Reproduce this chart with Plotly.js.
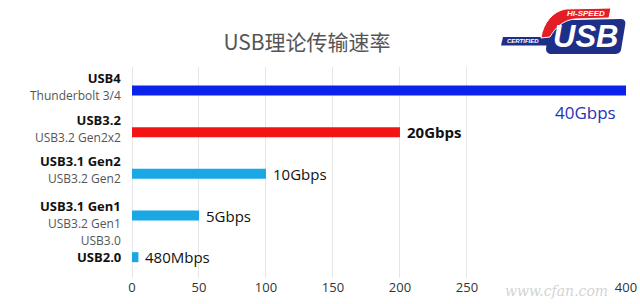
<!DOCTYPE html>
<html>
<head>
<meta charset="utf-8">
<script src="https://cdn.plot.ly/plotly-3.0.1.min.js"></script>
<style>html,body{margin:0;padding:0;background:#fff;}#chart{width:640px;height:304px;}</style>
</head>
<body>
<div id="chart"></div>
<script>
// ---- data ----
const categories = ['USB4', 'USB3.2', 'USB3.1 Gen2', 'USB3.1 Gen1', 'USB2.0'];
const subLabels = ['Thunderbolt 3/4', 'USB3.2 Gen2x2', 'USB3.2 Gen2', 'USB3.2 Gen1<br>USB3.0', ''];
const speeds = [400, 200, 100, 50, 4.8];          // in units of 100 Mbps
const speedLabels = ['40Gbps', '20Gbps', '10Gbps', '5Gbps', '480Mbps'];
const tickLabels = ['0', '50', '100', '150', '200', '250', '400'];
const tickValues = [0, 50, 100, 150, 200, 250, 368.7];
const titleText = 'USB理论传输速率';

// ---- layout geometry ----
const M = {l: 132, r: 14, t: 67, b: 26};
const W = 640 - M.l - M.r, H = 304 - M.t - M.b;
const axisMax = tickValues[tickValues.length - 1];
function px(x) { return (x - M.l) / W; }
function py(y) { return (304 - M.b - y) / H; }
function pt(q) { return px(q[0]).toFixed(4) + ',' + py(q[1]).toFixed(4); }
function pth(pts) {
  return pts.map((p, i) => (p[0] === 'C' ? 'C ' + p.slice(1).map(pt).join(' ') : (i === 0 ? 'M ' : 'L ') + pt(p))).join(' ') + ' Z';
}

const barColors = ['#0a22ea', '#f21414', '#1aa7e6', '#1aa7e6', '#1aa7e6'];

const trace = {
  type: 'bar', orientation: 'h',
  x: speeds, y: categories,
  width: 0.24,
  marker: {color: barColors, line: {width: 0}},
  hoverinfo: 'skip'
};

const annotations = [];
categories.forEach((c, i) => {
  const sub = subLabels[i];
  const lines = sub ? 1 + sub.split('<br>').length : 1;
  const shift = lines === 3 ? -7 : (lines === 2 ? 4 : 0);
  annotations.push({
    xref: 'paper', yref: 'y', x: 0, y: c, xanchor: 'right', yanchor: 'middle', xshift: -9, yshift: shift,
    align: 'right', showarrow: false,
    text: '<b>' + c + '</b>' + (sub ? '<br><span style="color:#555;font-size:12px">' + sub + '</span>' : ''),
    font: {family: 'Open Sans, Noto Sans, sans-serif', size: 13, color: '#111'}
  });
  if (i === 0) {
    annotations.push({
      xref: 'paper', yref: 'y', x: 1, y: c, xanchor: 'right', yanchor: 'middle', xshift: -8, yshift: -22,
      showarrow: false, text: speedLabels[i],
      font: {family: 'Open Sans, Noto Sans, sans-serif', size: 17, color: '#1f33b5'}
    });
  } else {
    annotations.push({
      xref: 'x', yref: 'y', x: speeds[i], y: c, xanchor: 'left', yanchor: 'middle', xshift: 5,
      showarrow: false, text: i === 1 ? '<b>' + speedLabels[i] + '</b>' : speedLabels[i],
      font: {family: 'Open Sans, Noto Sans, sans-serif', size: 15, color: '#111'}
    });
  }
});

// logo texts
annotations.push({xref: 'paper', yref: 'paper', x: px(586), y: py(13.5), xanchor: 'center', yanchor: 'middle',
  showarrow: false, text: '<b><i>HI-SPEED</i></b>', font: {family: 'Liberation Sans, Arial', size: 8, color: '#fff'}});
annotations.push({xref: 'paper', yref: 'paper', x: px(585), y: py(36.5), xanchor: 'center', yanchor: 'middle',
  showarrow: false, text: '<b><i>USB</i></b>', font: {family: 'Liberation Sans, Arial', size: 31, color: '#fff'}});
annotations.push({xref: 'paper', yref: 'paper', x: px(523), y: py(41), xanchor: 'center', yanchor: 'middle',
  showarrow: false, text: '<b><i>CERTIFIED</i></b>', font: {family: 'Liberation Sans, Arial', size: 6, color: '#fff'}});
annotations.push({xref: 'paper', yref: 'paper', x: px(619), y: py(51), xanchor: 'left', yanchor: 'middle',
  showarrow: false, text: '™', font: {family: 'Liberation Sans, Arial', size: 5, color: '#fff'}});
// watermark
annotations.push({xref: 'paper', yref: 'paper', x: px(556), y: py(291), xanchor: 'center', yanchor: 'middle',
  showarrow: false, text: '<i>www.cfan.com</i>', font: {family: 'DejaVu Serif, serif', size: 14, color: '#d4d4d4'}});

const shapes = [
  {type: 'path', xref: 'paper', yref: 'paper', fillcolor: '#1d2f86', line: {width: 0},
   path: pth([[503, 37], [548, 37], [548, 45.5], [501, 45.5]])},
  {type: 'path', xref: 'paper', yref: 'paper', fillcolor: '#1d2f86', line: {width: 0},
   path: pth([[548, 32], ['C', [552, 23], [560, 20], [572, 20]], [621, 19], ['C', [625, 19], [626, 22], [625, 26]],
              [621, 50], ['C', [620, 53], [618, 54], [614, 54]], [552, 54], ['C', [548, 54], [546, 52], [546, 49]]])},
  {type: 'path', xref: 'paper', yref: 'paper', fillcolor: '#e41e26', line: {width: 1, color: '#fff'},
   path: pth([[541, 38], ['C', [543, 23], [553, 11], [566, 9]], [611, 8], [609, 18], [575, 19],
              ['C', [563, 20], [555, 28], [550, 37]]])}
];

const layout = {
  width: 640, height: 304,
  margin: M,
  paper_bgcolor: '#fff', plot_bgcolor: '#fff',
  showlegend: false,
  title: {text: titleText, x: 307 / 640, xanchor: 'center', xref: 'container', yref: 'container', y: 1 - 43 / 304, yanchor: 'middle',
          font: {family: 'Noto Sans CJK SC, sans-serif', size: 21, color: '#555'}},
  xaxis: {
    range: [0, axisMax], tickvals: tickValues, ticktext: tickLabels,
    showgrid: true, gridcolor: '#e6e6e6', gridwidth: 1,
    zeroline: true, zerolinecolor: '#e6e6e6', zerolinewidth: 1,
    showline: false, ticks: '',
    tickfont: {family: 'Open Sans, Noto Sans, sans-serif', size: 13, color: '#333'},
    fixedrange: true
  },
  yaxis: {
    type: 'category', autorange: 'reversed', range: [4.5, -0.5],
    showticklabels: false, showgrid: false, zeroline: false, showline: false, ticks: '',
    fixedrange: true
  },
  bargap: 0.76,
  annotations: annotations,
  shapes: shapes
};

Plotly.newPlot('chart', [trace], layout, {displayModeBar: false, staticPlot: true});
</script>
</body>
</html>
